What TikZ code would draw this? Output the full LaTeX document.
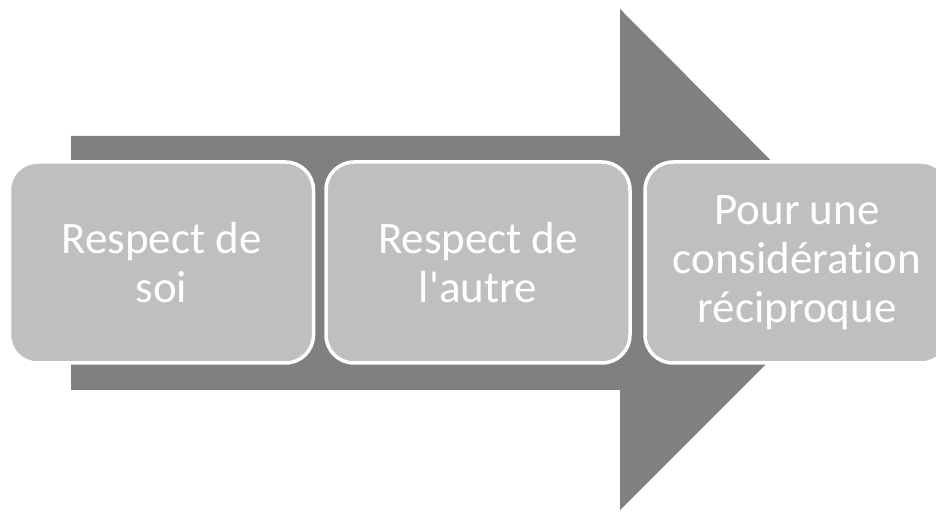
\documentclass[tikz,border=0pt]{standalone}
\usepackage{fontspec}
\setmainfont{Carlito}[Ligatures={TeXOff,NoCommon}]
\definecolor{arrowgray}{HTML}{808080}
\definecolor{boxgray}{HTML}{BFBFBF}
\tikzset{
  stepbox/.style={draw=white, line width=3.5pt, fill=boxgray, rounded corners=28pt,
    minimum width=304pt, minimum height=201pt, inner sep=0pt,
    text=white, align=center, font=\fontsize{45}{49}\selectfont},
  bigarrow/.style={fill=arrowgray, draw=none}
}
\begin{document}
\begin{tikzpicture}[x=1pt,y=1pt]
\useasboundingbox (0,0) rectangle (936,511);
\clip (0,0) rectangle (936,511);
\fill[white] (0,0) rectangle (936,511);
\path[bigarrow] (71,375) -- (620,375) -- (620,502) -- (870,251) -- (620,1) -- (620,121) -- (71,121) -- cycle;
\node[stepbox] (a) at (161.5,248.5) {Respect de\\soi};
\node[stepbox] (b) at (478,248.5) {Respect de\\l'autre};
\node[stepbox] (c) at (797,248.5) {Pour une\\considération\\réciproque};
\end{tikzpicture}
\end{document}
